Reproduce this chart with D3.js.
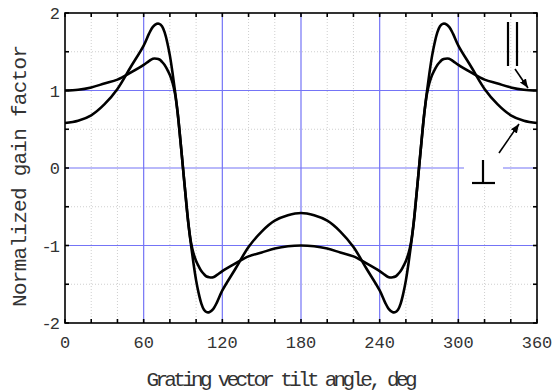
<!DOCTYPE html>
<html>
<head>
<meta charset="utf-8">
<script src="https://cdn.jsdelivr.net/npm/d3@7"></script>
<style>
  html, body { margin: 0; padding: 0; background: #fff; }
  svg { display: block; }
  text { font-family: "Courier New", "Nimbus Mono PS", "FreeMono", "Liberation Mono", monospace; fill: #333; }
</style>
</head>
<body>
<svg id="chart" width="554" height="391"></svg>
<script>
// tilt angle (deg)
const angles = [
  0, 10, 20, 30, 40, 50, 60, 64, 67, 70, 72, 74, 76, 78, 80, 82, 84, 86, 88, 90,
  92, 94, 96, 98, 100, 102, 104, 106, 108, 110, 113, 116, 120, 130, 140, 150, 160, 170, 180,
  190, 200, 210, 220, 230, 240, 244, 247, 250, 252, 254, 256, 258, 260, 262, 264, 266, 268, 270,
  272, 274, 276, 278, 280, 282, 284, 286, 288, 290, 293, 296, 300, 310, 320, 330, 340, 350, 360
];
// parallel polarisation
const gainPar = [
  1.00, 1.01, 1.04, 1.09, 1.14, 1.23, 1.33, 1.38, 1.41, 1.41, 1.40, 1.37, 1.33, 1.27, 1.20, 1.10, 0.95, 0.70, 0.36, 0.00,
  -0.36, -0.70, -0.95, -1.10, -1.20, -1.27, -1.33, -1.37, -1.40, -1.41, -1.41, -1.38, -1.33, -1.23, -1.14, -1.09, -1.04, -1.01, -1.00,
  -1.01, -1.04, -1.09, -1.14, -1.23, -1.33, -1.38, -1.41, -1.41, -1.40, -1.37, -1.33, -1.27, -1.20, -1.10, -0.95, -0.70, -0.36, 0.00,
  0.36, 0.70, 0.95, 1.10, 1.20, 1.27, 1.33, 1.37, 1.40, 1.41, 1.41, 1.38, 1.33, 1.23, 1.14, 1.09, 1.04, 1.01, 1.00
];
// perpendicular polarisation
const gainPerp = [
  0.58, 0.61, 0.68, 0.82, 1.02, 1.30, 1.58, 1.73, 1.82, 1.86, 1.86, 1.83, 1.75, 1.62, 1.45, 1.23, 0.98, 0.70, 0.36, 0.00,
  -0.36, -0.70, -0.98, -1.23, -1.45, -1.62, -1.75, -1.83, -1.86, -1.86, -1.82, -1.73, -1.58, -1.30, -1.02, -0.82, -0.68, -0.61, -0.58,
  -0.61, -0.68, -0.82, -1.02, -1.30, -1.58, -1.73, -1.82, -1.86, -1.86, -1.83, -1.75, -1.62, -1.45, -1.23, -0.98, -0.70, -0.36, 0.00,
  0.36, 0.70, 0.98, 1.23, 1.45, 1.62, 1.75, 1.83, 1.86, 1.86, 1.82, 1.73, 1.58, 1.30, 1.02, 0.82, 0.68, 0.61, 0.58
];
const xTicks = [0, 60, 120, 180, 240, 300, 360];
const yTicks = [-2, -1, 0, 1, 2];
const xMinor = d3.range(0, 361, 20);
const yMinor = [-1.5, -0.5, 0.5, 1.5];

const svg = d3.select("#chart");
const margin = { top: 13, right: 17, bottom: 68, left: 65 };
const W = 554, H = 391;
const x = d3.scaleLinear().domain([0, 360]).range([margin.left, W - margin.right]);
const y = d3.scaleLinear().domain([-2, 2]).range([H - margin.bottom, margin.top]);
const [x0, x1] = x.range();
const [y0, y1] = y.range();

/* minor dotted grid */
const grid = svg.append("g");
grid.append("g").selectAll("line")
  .data(xMinor.filter((d) => d % 60 !== 0))
  .join("line")
  .attr("x1", (d) => x(d)).attr("x2", (d) => x(d))
  .attr("y1", y1).attr("y2", y0)
  .attr("stroke", "#cfcfcf").attr("stroke-dasharray", "1,2");
grid.append("g").selectAll("line")
  .data(yMinor)
  .join("line")
  .attr("y1", (d) => y(d)).attr("y2", (d) => y(d))
  .attr("x1", x0).attr("x2", x1)
  .attr("stroke", "#cfcfcf").attr("stroke-dasharray", "1,2");

/* major blue grid */
grid.append("g").selectAll("line")
  .data(xTicks.slice(1, -1))
  .join("line")
  .attr("x1", (d) => x(d)).attr("x2", (d) => x(d))
  .attr("y1", y1).attr("y2", y0)
  .attr("stroke", "#7474f6").attr("stroke-width", 1.2);
grid.append("g").selectAll("line")
  .data(yTicks.slice(1, -1))
  .join("line")
  .attr("y1", (d) => y(d)).attr("y2", (d) => y(d))
  .attr("x1", x0).attr("x2", x1)
  .attr("stroke", "#7474f6").attr("stroke-width", 1.2);

/* curves */
const line = d3.line()
  .x((d) => x(d[0]))
  .y((d) => y(d[1]))
  .curve(d3.curveCatmullRom.alpha(0.5));
[gainPar, gainPerp].forEach((vals) => {
  svg.append("path")
    .datum(angles.map((a, i) => [a, vals[i]]))
    .attr("fill", "none")
    .attr("stroke", "#000")
    .attr("stroke-width", 2.6)
    .attr("stroke-linejoin", "round")
    .attr("d", line);
});

/* frame and inward ticks */
svg.append("rect")
  .attr("x", x0).attr("y", y1)
  .attr("width", x1 - x0).attr("height", y0 - y1)
  .attr("fill", "none").attr("stroke", "#000").attr("stroke-width", 1.6);

const TICK = 4;
const ticks = svg.append("g").attr("stroke", "#000").attr("stroke-width", 1.6);
xMinor.forEach((d) => {
  ticks.append("line").attr("x1", x(d)).attr("x2", x(d)).attr("y1", y0).attr("y2", y0 - TICK);
  ticks.append("line").attr("x1", x(d)).attr("x2", x(d)).attr("y1", y1).attr("y2", y1 + TICK);
});
d3.range(-2, 2.01, 0.5).forEach((d) => {
  ticks.append("line").attr("y1", y(d)).attr("y2", y(d)).attr("x1", x0).attr("x2", x0 + TICK);
  ticks.append("line").attr("y1", y(d)).attr("y2", y(d)).attr("x1", x1).attr("x2", x1 - TICK);
});

/* tick labels */
svg.append("g").selectAll("text")
  .data(xTicks)
  .join("text")
  .attr("x", (d) => x(d))
  .attr("y", y0 + 25)
  .attr("text-anchor", "middle")
  .attr("font-size", 17)
  .text((d) => d);
svg.append("g").selectAll("text")
  .data(yTicks)
  .join("text")
  .attr("x", x0 - 7)
  .attr("y", (d) => y(d) + 6)
  .attr("text-anchor", "end")
  .attr("font-size", 17)
  .attr("letter-spacing", -2)
  .text((d) => d);

/* axis titles */
svg.append("text")
  .attr("x", 282).attr("y", 386)
  .attr("text-anchor", "middle")
  .attr("font-size", 21)
  .attr("textLength", 271)
  .attr("lengthAdjust", "spacing")
  .text("Grating vector tilt angle, deg");
svg.append("text")
  .attr("transform", `translate(26,${(y0 + y1) / 2 + 8}) rotate(-90)`)
  .attr("text-anchor", "middle")
  .attr("font-size", 21)
  .attr("textLength", 262)
  .attr("lengthAdjust", "spacing")
  .text("Normalized gain factor");

/* annotations: parallel and perpendicular marks with arrows */
svg.append("defs").append("marker")
  .attr("id", "arrow")
  .attr("viewBox", "0 0 10 10")
  .attr("refX", 10).attr("refY", 5)
  .attr("markerWidth", 9).attr("markerHeight", 9)
  .attr("markerUnits", "userSpaceOnUse")
  .attr("orient", "auto")
  .append("path").attr("d", "M0,1 L10,5 L0,9 Z").attr("fill", "#000");

svg.append("rect").attr("x", 464).attr("y", 156).attr("width", 39).attr("height", 30).attr("fill", "#fff");

const ann = svg.append("g").attr("stroke", "#000").attr("stroke-width", 2.2);
ann.append("line").attr("x1", 508).attr("x2", 508).attr("y1", 22).attr("y2", 66);
ann.append("line").attr("x1", 517).attr("x2", 517).attr("y1", 22).attr("y2", 66);
ann.append("line").attr("x1", 515).attr("y1", 69).attr("x2", 528).attr("y2", 88)
  .attr("stroke-width", 1.6).attr("marker-end", "url(#arrow)");

ann.append("line").attr("x1", 483).attr("x2", 483).attr("y1", 160).attr("y2", 183);
ann.append("line").attr("x1", 472).attr("x2", 495).attr("y1", 183).attr("y2", 183);
ann.append("line").attr("x1", 499).attr("y1", 153).attr("x2", 519).attr("y2", 124)
  .attr("stroke-width", 1.6).attr("marker-end", "url(#arrow)");
</script>
</body>
</html>
